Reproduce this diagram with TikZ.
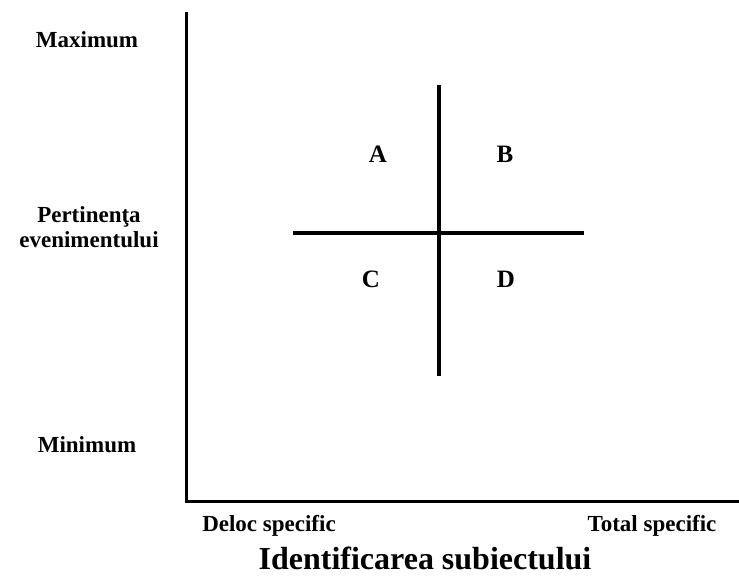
\documentclass[tikz,border=0pt]{standalone}
\usepackage{fontspec}
\setmainfont{Liberation Serif}
\usepackage{tikz}
\usetikzlibrary{positioning}

\tikzset{
  axis/.style={line width=3pt},
  quad/.style={line width=3.5pt},
  lbl/.style={font=\fontsize{23}{25}\selectfont\bfseries, inner sep=0pt},
  ttl/.style={font=\fontsize{32}{34}\selectfont\bfseries, inner sep=0pt},
  letter/.style={font=\fontsize{25}{27}\selectfont\bfseries, inner sep=0pt}
}

\begin{document}
\begin{tikzpicture}[x=1pt,y=-1pt]
\useasboundingbox (0,0) rectangle (739,578);

% axes
\coordinate (top) at (186,12);
\coordinate (orig) at (186,501);
\coordinate (right) at (739,501);
\draw [axis] (top) -- (orig) -- (right);

% cross
\coordinate (n) at (439,85);
\coordinate (s) at (439,376);
\coordinate (w) at (293,233);
\coordinate (e) at (584,233);
\draw [quad] (w) -- (e);
\draw [quad] (n) -- (s);

\node [letter] (A) at (378,154) {A};
\node [letter] (B) at (505,154) {B};
\node [letter] (C) at (371,279) {C};
\node [letter] (D) at (506,279) {D};

% vertical axis labels
\node [lbl] (max) at (87,40) {Maximum};
\node [lbl, align=center] (pert) at (89,227) {Pertinen\c{t}a\\evenimentului};
\node [lbl] (min) at (87,445) {Minimum};

% horizontal axis labels
\node [lbl] (deloc) at (269,526) {Deloc specific};
\node [lbl] (total) at (652,526) {Total specific};
\node [ttl, anchor=base] (ident) at (425,569) {Identificarea subiectului};
\end{tikzpicture}
\end{document}
